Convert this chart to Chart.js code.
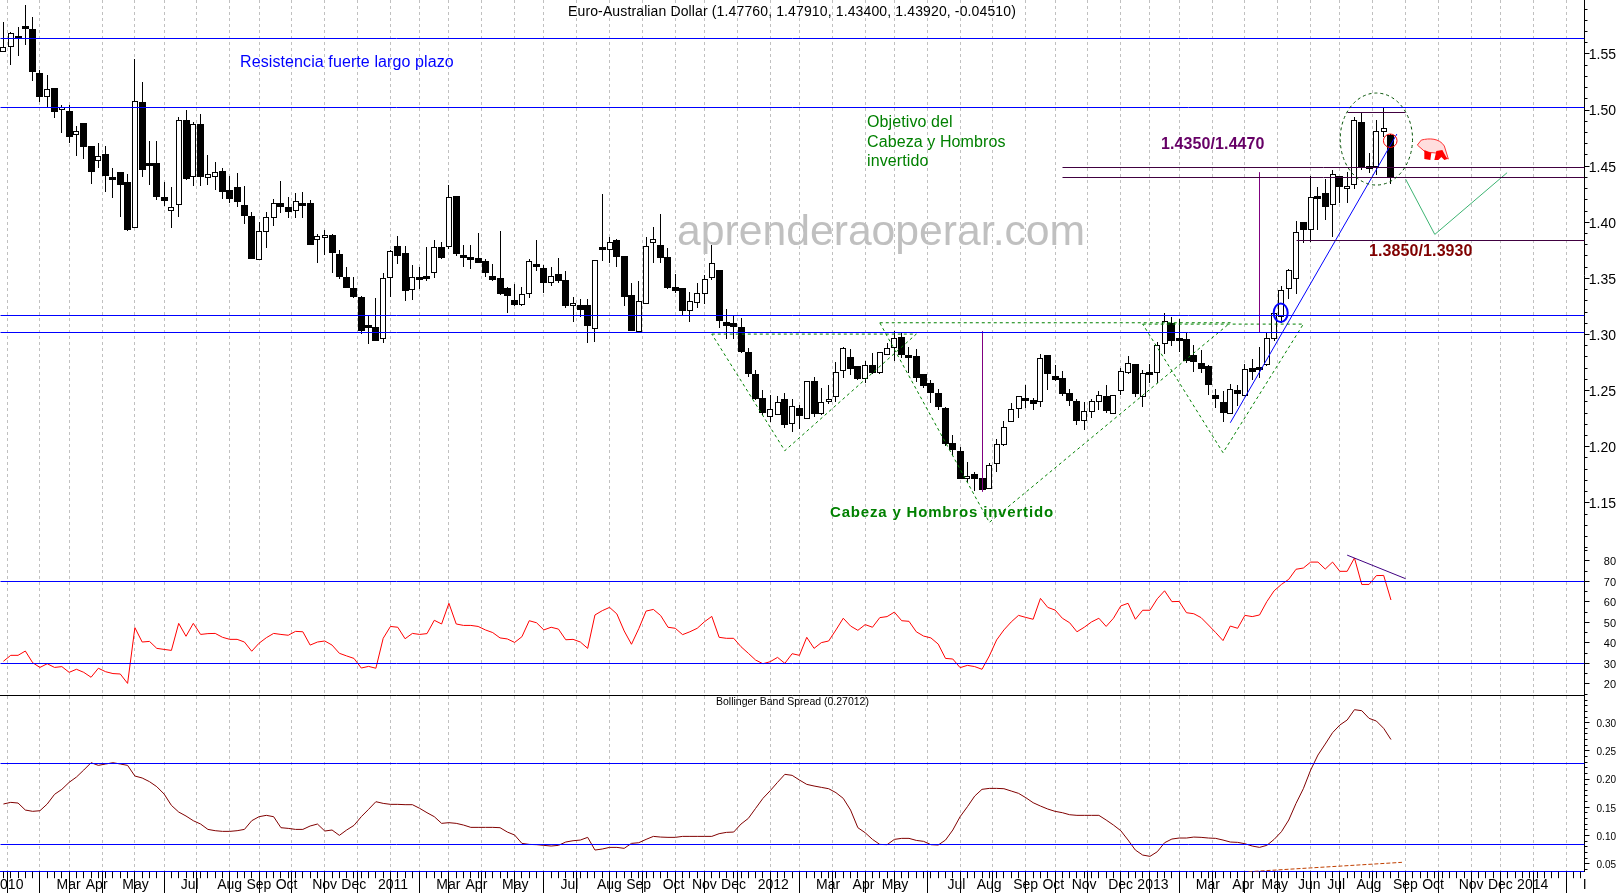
<!DOCTYPE html>
<html>
<head>
<meta charset="utf-8">
<title>Euro-Australian Dollar</title>
<style>
  html, body { margin: 0; padding: 0; background: #fff; }
  canvas { display: block; }
</style>
<script src="https://cdn.jsdelivr.net/npm/chart.js@4/dist/chart.umd.js"></script>
</head>
<body>
<canvas id="chart" width="1620" height="893"></canvas>
<script>
// weekly bars, bar number is the x value
const opens = [
  1.5514,1.5564,1.5659,1.5748,1.5719,1.5327,1.5113,1.5193,1.5003,1.4991,
  1.4774,1.4881,1.4679,1.4543,1.4608,1.4400,1.4445,1.4358,1.3952,1.5068,
  1.4525,1.4528,1.4225,1.4103,1.4150,1.4908,1.4400,1.4872,1.4391,1.4400,
  1.4456,1.4284,1.4311,1.4153,1.4055,1.3660,1.3910,1.4035,1.4171,1.4136,
  1.4097,1.4171,1.4171,1.3839,1.3856,1.3886,1.3717,1.3512,1.3414,1.3337,
  1.3084,1.3066,1.2957,1.3500,1.3788,1.3723,1.3393,1.3509,1.3518,1.3545,
  1.3779,1.3782,1.4234,1.3705,1.3687,1.3678,1.3652,1.3521,1.3500,1.3414,
  1.3304,1.3259,1.3357,1.3625,1.3589,1.3456,1.3536,1.3485,1.3257,1.3259,
  1.3262,1.3046,1.3776,1.3750,1.3842,1.3699,1.3352,1.3025,1.3268,1.3812,
  1.3794,1.3687,1.3423,1.3411,1.3206,1.3277,1.3357,1.3500,1.3574,1.3108,
  1.3102,1.3063,1.2841,1.2648,1.2434,1.2268,1.2279,1.2425,1.2199,1.2345,
  1.2247,1.2582,1.2288,1.2407,1.2440,1.2671,1.2796,1.2719,1.2600,1.2725,
  1.2654,1.2814,1.2876,1.2974,1.2814,1.2808,1.2645,1.2565,1.2475,1.2345,
  1.2030,1.1959,1.1709,1.1754,1.1718,1.1620,1.1843,1.2018,1.2217,1.2333,
  1.2431,1.2416,1.2395,1.2817,1.2627,1.2609,1.2475,1.2404,1.2226,1.2312,
  1.2395,1.2449,1.2288,1.2493,1.2660,1.2737,1.2446,1.2668,1.2654,1.2912,
  1.3099,1.2965,1.2957,1.2814,1.2743,1.2719,1.2461,1.2398,1.2288,1.2505,
  1.2455,1.2704,1.2707,1.2725,1.2957,1.3159,1.3402,1.3491,1.4000,1.3934,
  1.4231,1.4260,1.4150,1.4409,1.4299,1.4329,1.4890,1.4501,1.4495,1.4801,
  1.4776
];
const closes = [
  1.5558,1.5683,1.5653,1.5733,1.5341,1.5119,1.5184,1.4985,1.5024,1.4762,
  1.4816,1.4673,1.4450,1.4587,1.4415,1.4373,1.4335,1.3931,1.5077,1.4468,
  1.4513,1.4228,1.4192,1.4139,1.4908,1.4385,1.4872,1.4406,1.4427,1.4445,
  1.4272,1.4204,1.4183,1.4058,1.3675,1.3925,1.4050,1.4168,1.4139,1.4094,
  1.4186,1.4159,1.3800,1.3874,1.3883,1.3729,1.3509,1.3417,1.3337,1.3034,
  1.3072,1.2945,1.3500,1.3747,1.3702,1.3390,1.3509,1.3491,1.3509,1.3782,
  1.3684,1.4222,1.3717,1.3696,1.3678,1.3640,1.3551,1.3488,1.3363,1.3346,
  1.3262,1.3363,1.3652,1.3613,1.3461,1.3518,1.3479,1.3257,1.3280,1.3221,
  1.3078,1.3660,1.3756,1.3827,1.3693,1.3337,1.3034,1.3301,1.3785,1.3848,
  1.3684,1.3414,1.3387,1.3212,1.3295,1.3366,1.3491,1.3634,1.3123,1.3078,
  1.3069,1.2847,1.2648,1.2425,1.2300,1.2333,1.2401,1.2196,1.2360,1.2276,
  1.2582,1.2294,1.2401,1.2428,1.2668,1.2876,1.2695,1.2606,1.2731,1.2654,
  1.2847,1.2882,1.2971,1.2820,1.2802,1.2615,1.2541,1.2481,1.2357,1.2027,
  1.1974,1.1715,1.1742,1.1715,1.1611,1.1834,1.2021,1.2178,1.2333,1.2449,
  1.2413,1.2383,1.2787,1.2651,1.2594,1.2469,1.2410,1.2232,1.2315,1.2404,
  1.2458,1.2321,1.2458,1.2671,1.2743,1.2472,1.2654,1.2660,1.2903,1.3123,
  1.2945,1.2954,1.2766,1.2758,1.2695,1.2553,1.2425,1.2297,1.2511,1.2469,
  1.2695,1.2668,1.2695,1.2965,1.3188,1.3396,1.3574,1.3910,1.3934,1.4222,
  1.4219,1.4139,1.4427,1.4317,1.4320,1.4908,1.4495,1.4489,1.4810,1.4837,
  1.4392
];
const highs = [
  1.5781,1.5692,1.5736,1.5935,1.5826,1.5356,1.5312,1.5193,1.5041,1.5041,
  1.4857,1.4881,1.4679,1.4703,1.4679,1.4480,1.4445,1.4430,1.5451,1.5246,
  1.4724,1.4724,1.4358,1.4311,1.4941,1.5000,1.4893,1.4961,1.4599,1.4534,
  1.4480,1.4412,1.4439,1.4323,1.4091,1.4002,1.4094,1.4207,1.4364,1.4228,
  1.4263,1.4266,1.4198,1.3892,1.3931,1.3895,1.3753,1.3604,1.3509,1.3343,
  1.3170,1.3328,1.3545,1.3753,1.3877,1.3788,1.3616,1.3604,1.3779,1.3842,
  1.3821,1.4332,1.4234,1.3797,1.3797,1.3901,1.3669,1.3625,1.3922,1.3426,
  1.3450,1.3426,1.3669,1.3842,1.3619,1.3604,1.3678,1.3568,1.3337,1.3319,
  1.3316,1.3660,1.4251,1.3865,1.3853,1.3699,1.3456,1.3476,1.3871,1.3954,
  1.4073,1.3770,1.3536,1.3411,1.3375,1.3456,1.3530,1.3797,1.3574,1.3227,
  1.3173,1.3144,1.2876,1.2683,1.2505,1.2461,1.2452,1.2475,1.2425,1.2369,
  1.2588,1.2618,1.2520,1.2550,1.2755,1.2891,1.2870,1.2719,1.2764,1.2832,
  1.2847,1.2921,1.3028,1.3010,1.2891,1.2867,1.2645,1.2594,1.2514,1.2351,
  1.2104,1.2000,1.1861,1.1772,1.1733,1.1852,1.2066,1.2229,1.2386,1.2452,
  1.2550,1.2431,1.2823,1.2817,1.2728,1.2674,1.2517,1.2422,1.2395,1.2422,
  1.2496,1.2550,1.2458,1.2698,1.2808,1.2737,1.2683,1.2734,1.2936,1.3188,
  1.3153,1.3135,1.3010,1.2906,1.2862,1.2725,1.2514,1.2499,1.2559,1.2550,
  1.2734,1.2781,1.2891,1.3016,1.3194,1.3432,1.3580,1.4011,1.4000,1.4412,
  1.4317,1.4382,1.4465,1.4409,1.4447,1.4935,1.4976,1.4620,1.4911,1.5021,
  1.4791
];
const lows = [
  1.5514,1.5401,1.5484,1.5579,1.5261,1.5074,1.5024,1.4932,1.4798,1.4709,
  1.4593,1.4563,1.4341,1.4486,1.4272,1.4219,1.4050,1.3925,1.3946,1.4406,
  1.4332,1.4198,1.4148,1.3952,1.4050,1.4376,1.4326,1.4326,1.4332,1.4287,
  1.4207,1.4174,1.4139,1.3984,1.3675,1.3660,1.3767,1.3969,1.4085,1.4035,
  1.4035,1.4041,1.3797,1.3640,1.3711,1.3551,1.3491,1.3411,1.3328,1.3004,
  1.2918,1.2945,1.2927,1.3337,1.3628,1.3298,1.3307,1.3402,1.3476,1.3506,
  1.3669,1.3764,1.3702,1.3604,1.3586,1.3634,1.3515,1.3479,1.3354,1.3194,
  1.3254,1.3257,1.3322,1.3568,1.3372,1.3432,1.3456,1.3233,1.3114,1.3159,
  1.2927,1.2936,1.3657,1.3634,1.3604,1.3254,1.3034,1.3025,1.3268,1.3634,
  1.3640,1.3402,1.3366,1.3173,1.3114,1.3239,1.3271,1.3485,1.3055,1.2960,
  1.2960,1.2832,1.2624,1.2416,1.2282,1.2223,1.2279,1.2167,1.2134,1.2155,
  1.2247,1.2262,1.2282,1.2380,1.2401,1.2615,1.2639,1.2594,1.2570,1.2648,
  1.2648,1.2814,1.2766,1.2787,1.2654,1.2579,1.2520,1.2392,1.2327,1.2009,
  1.1926,1.1709,1.1688,1.1605,1.1611,1.1620,1.1774,1.2009,1.2217,1.2259,
  1.2348,1.2327,1.2357,1.2505,1.2585,1.2452,1.2363,1.2193,1.2149,1.2259,
  1.2327,1.2303,1.2288,1.2461,1.2648,1.2446,1.2357,1.2565,1.2565,1.2826,
  1.2900,1.2847,1.2743,1.2668,1.2654,1.2464,1.2342,1.2223,1.2288,1.2366,
  1.2455,1.2594,1.2609,1.2719,1.2945,1.3099,1.3316,1.3360,1.3812,1.3827,
  1.3931,1.4020,1.3865,1.4168,1.4174,1.4299,1.4465,1.4442,1.4421,1.4762,
  1.4340
];
const rsiValues = [
  31.0,33.9,33.9,36.0,30.3,28.0,29.8,28.0,28.4,25.6,
  27.1,25.6,23.2,27.6,25.9,25.0,24.8,20.2,47.4,40.4,
  40.7,37.3,36.8,36.3,49.5,43.2,49.5,44.1,44.5,44.6,
  42.7,41.7,41.7,40.4,35.9,39.8,42.5,44.6,44.1,43.7,
  45.6,45.4,38.9,40.4,40.9,38.9,34.9,33.6,32.4,27.7,
  28.5,27.6,42.2,48.0,47.6,42.0,44.6,44.1,44.5,51.0,
  49.2,59.3,49.2,48.5,48.5,48.0,46.3,45.0,42.4,41.9,
  40.2,43.0,50.8,49.8,46.3,47.6,46.7,41.5,41.7,40.4,
  37.3,53.6,55.7,57.3,54.1,45.8,39.3,46.9,55.5,56.3,
  53.3,47.6,47.1,44.0,45.4,47.1,50.3,52.9,42.7,42.2,
  42.2,38.1,34.9,31.6,29.8,30.8,32.9,30.0,34.7,33.9,
  42.7,37.3,40.1,40.9,46.3,52.0,48.2,46.1,48.9,47.6,
  52.3,52.8,55.0,50.8,50.5,45.4,43.3,42.4,39.4,32.4,
  32.1,27.9,29.0,28.4,27.1,33.6,41.4,46.3,50.2,53.4,
  52.4,51.5,61.7,57.3,56.0,52.0,49.8,45.4,47.6,50.2,
  52.0,48.0,52.0,58.0,59.3,51.5,55.9,55.9,61.5,65.4,
  60.1,60.2,54.7,54.2,52.3,48.7,45.0,41.1,48.2,47.1,
  53.4,52.8,53.6,60.1,65.4,68.5,71.0,75.9,76.5,79.4,
  79.4,76.0,79.4,74.9,74.9,81.4,68.5,68.5,72.8,72.9,
  60.9
];
const bandSpread = [
  .1558,.1587,.1575,.1451,.1428,.1439,.1558,.1729,.1818,.1942,
  .2036,.2160,.2290,.2243,.2267,.2290,.2267,.2243,.2054,.2019,
  .1954,.1865,.1735,.1534,.1416,.1345,.1262,.1203,.1108,.1085,
  .1073,.1073,.1085,.1108,.1262,.1333,.1357,.1333,.1138,.1126,
  .1108,.1108,.1168,.1203,.1079,.1097,.1002,.1097,.1179,.1333,
  .1463,.1599,.1569,.1552,.1552,.1546,.1546,.1481,.1404,.1333,
  .1215,.1227,.1215,.1185,.1144,.1144,.1144,.1144,.1138,.1061,
  .1008,.0860,.0842,.0837,.0825,.0813,.0825,.0884,.0907,.0919,
  .0967,.0742,.0760,.0789,.0789,.0772,.0860,.0872,.0931,.0984,
  .0972,.0967,.0967,.0984,.0984,.0984,.0984,.0984,.1032,.1055,
  .1061,.1203,.1303,.1481,.1658,.1794,.1942,.2084,.2066,.1983,
  .1906,.1877,.1853,.1829,.1759,.1658,.1451,.1138,.1049,.0931,
  .0842,.0837,.0931,.0949,.0949,.0913,.0896,.0837,.0831,.0919,
  .1097,.1333,.1510,.1699,.1818,.1835,.1835,.1829,.1788,.1747,
  .1670,.1581,.1522,.1469,.1428,.1404,.1368,.1357,.1357,.1357,
  .1357,.1274,.1185,.1085,.0919,.0742,.0653,.0630,.0712,.0872,
  .0937,.0955,.0955,.0972,.0967,.0955,.0949,.0919,.0884,.0878,
  .0854,.0813,.0789,.0825,.0931,.1067,.1274,.1569,.1829,.2160,
  .2426,.2621,.2822,.2958,.3047,.3230,.3212,.3076,.3029,.2899,
  .27012
];

// month ticks on the time axis, bar number and text
const monthTicks = [-1.8,3,7,11,16,20,24,29,33,37,42,46,51,55,59,63,68,72,76,81,85,90,94,98,103,107,111,116,120,124,129,133,138,142,146,151,155,159,163,168,172,177,181,185,190,194,199,203,207,212,216];
const monthLabels = ['2010','','Mar','Apr','May','','Jul','Aug','Sep','Oct','Nov','Dec','2011','','Mar','Apr','May','','Jul','Aug','Sep','Oct','Nov','Dec','2012','','Mar','Apr','May','','Jul','Aug','Sep','Oct','Nov','Dec','2013','','Mar','Apr','May','Jun','Jul','Aug','Sep','Oct','Nov','Dec','2014','','I'];
const priceTicks = [1.15,1.20,1.25,1.30,1.35,1.40,1.45,1.50,1.55];
const rsiTicks = [20,30,40,50,60,70,80];
const spreadTicks = [.05,.10,.15,.20,.25,.30];

// levels and drawn lines: [ [x, y], [x, y], ... ]
const priceLevels = [1.5638, 1.5024, 1.3174, 1.3019];
const rsiLevels = [70, 30];
const spreadLevels = [.2279, .0843];
const XMIN = -0.47, XMAX = 216.5;

const purpleLevels = [
  [[145, 1.4489], [XMAX, 1.4489]],
  [[145, 1.4400], [XMAX, 1.4400]],
  [[184, 1.4979], [192, 1.4979]],
  [[177, 1.3839], [XMAX, 1.3839]]
];
const targetLines = [
  [[172, 1.4445], [172, 1.3019]],
  [[134, 1.3025], [134, 1.1599]]
];
const shoulderLeft = [[97, 1.3004], [125, 1.3004], [107, 1.1965], [97, 1.3004]];
const headShape = [[120, 1.3105], [168, 1.3105], [135, 1.1326], [120, 1.3105]];
const shoulderRight = [[156, 1.3093], [178, 1.3093], [167, 1.1947], [156, 1.3093]];
const trendLine = [[168, 1.2214], [190.8, 1.4786]];
const forecastLine = [[192, 1.4385], [196, 1.3892], [205.9, 1.4442]];
const rsiDivergence = [[184, 82.8], [192, 71.3]];
const spreadRise = [[170.5, .0358], [191.5, .0524]];

// ellipses: centre bar, centre price, radius in bars, radius in price
const ellipses = [
  { c: [174.9, 1.3194], r: [0.96, 0.0082], color: '#0000ff', width: 2, dash: [] },
  { c: [188, 1.4742], r: [4.95, 0.041], color: '#005000', width: 1, dash: [3, 3] },
  { c: [189.9, 1.4727], r: [0.93, 0.006], color: '#ff0000', width: 1, dash: [] }
];

const FONT = '"Liberation Sans", Arial, sans-serif';
const texts = [
  { t: 'Euro-Australian Dollar (1.47760, 1.47910, 1.43400, 1.43920, -0.04510)', x: 568, y: 12, font: '14px ' + FONT, color: '#000', sp: '0.13px' },
  { t: 'Resistencia fuerte largo plazo', x: 240, y: 63, font: '16px ' + FONT, color: '#0000ff', sp: '0.1px' },
  { t: 'Objetivo del', x: 867, y: 123, font: '16px ' + FONT, color: '#008000', sp: '0.1px' },
  { t: 'Cabeza y Hombros', x: 867, y: 143, font: '16px ' + FONT, color: '#008000', sp: '0.1px' },
  { t: 'invertido', x: 867, y: 162, font: '16px ' + FONT, color: '#008000', sp: '0.1px' },
  { t: '1.4350/1.4470', x: 1161, y: 145, font: 'bold 16px ' + FONT, color: '#660066', sp: '0.1px' },
  { t: '1.3850/1.3930', x: 1369, y: 252, font: 'bold 16px ' + FONT, color: '#800000', sp: '0.1px' },
  { t: 'Cabeza y Hombros invertido', x: 830, y: 513, font: 'bold 15px ' + FONT, color: '#008000', sp: '0.82px' },
  { t: 'Bollinger Band Spread (0.27012)', x: 716, y: 702, font: '10.5px ' + FONT, color: '#000', sp: '0px' }
];

const points = (pairs) => pairs.map(([x, y]) => ({ x, y }));
const ohlcIndex = opens.map((_, i) => i);
const wickPoints = ohlcIndex.map((i) => ({ x: i, y: [lows[i], highs[i]] }));
const upBodies = ohlcIndex.filter((i) => closes[i] >= opens[i]).map((i) => ({ x: i, y: [opens[i], closes[i]] }));
const downBodies = ohlcIndex.filter((i) => closes[i] < opens[i]).map((i) => ({ x: i, y: [opens[i], closes[i]] }));

function lineSet(data, yAxisID, color, extra) {
  return Object.assign({
    type: 'line', data: points(data), yAxisID, borderColor: color, borderWidth: 1,
    pointRadius: 0, tension: 0, fill: false, order: 5, snap: false, borderCapStyle: 'butt'
  }, extra || {});
}
function barSet(data, thickness, fill, order, border) {
  return {
    type: 'bar', data, yAxisID: 'price', grouped: false, barThickness: thickness,
    backgroundColor: fill, borderColor: '#000', borderWidth: border, borderSkipped: false,
    inflateAmount: 0, order
  };
}

const datasets = [
  barSet(wickPoints, 1, '#000', 20, 0),
  barSet(downBodies, 7, '#000', 19, 0),
  barSet(upBodies, 6, '#fff', 19, 1)
];
priceLevels.forEach((v) => datasets.push(lineSet([[XMIN, v], [XMAX, v]], 'price', '#0000ff', { snap: true })));
rsiLevels.forEach((v) => datasets.push(lineSet([[XMIN, v], [XMAX, v]], 'rsi', '#0000ff', { snap: true })));
spreadLevels.forEach((v) => datasets.push(lineSet([[XMIN, v], [XMAX, v]], 'spread', '#0000ff', { snap: true })));
purpleLevels.forEach((l) => datasets.push(lineSet(l, 'price', '#400040', { snap: true })));
targetLines.forEach((l) => datasets.push(lineSet(l, 'price', '#800080', { snap: true })));
[shoulderLeft, headShape, shoulderRight].forEach((l) => datasets.push(lineSet(l, 'price', '#008000', { borderDash: [3, 3] })));
datasets.push(lineSet(trendLine, 'price', '#0000ff'));
datasets.push(lineSet(forecastLine, 'price', '#3cb371'));
datasets.push(lineSet(rsiValues.map((v, i) => [i, v]), 'rsi', '#ff0000', { order: 6 }));
datasets.push(lineSet(rsiDivergence, 'rsi', '#400080'));
datasets.push(lineSet(bandSpread.map((v, i) => [i, v]), 'spread', '#800000', { order: 6 }));
datasets.push(lineSet(spreadRise, 'spread', '#c04000', { borderDash: [4, 2] }));

// 1px marks stay crisp like the original bitmap
const snapPlugin = {
  id: 'snap',
  afterDatasetsUpdate(chart) {
    chart.data.datasets.forEach((ds, n) => {
      const meta = chart.getDatasetMeta(n);
      if (ds.type === 'bar') {
        meta.data.forEach((el) => {
          el.x = ds.barThickness % 2 ? Math.floor(el.x) + 0.5 : Math.round(el.x);
          el.y = Math.round(el.y);
          el.base = Math.round(el.base);
          if (ds.barThickness > 1 && Math.abs(el.base - el.y) < 3) el.base = el.y + 3;
          el.height = el.base - el.y;
        });
      } else if (ds.snap) {
        meta.data.forEach((el) => {
          el.x = Math.floor(el.x) + 0.5;
          el.y = Math.floor(el.y) + 0.5;
        });
      }
    });
  }
};

function drawBear(ctx, cx, cy) {
  ctx.save();
  ctx.translate(cx, cy);
  ctx.fillStyle = '#ffdede';
  ctx.beginPath();
  ctx.moveTo(-16, -5);
  ctx.lineTo(-12, -10);
  ctx.bezierCurveTo(-4, -12, 6, -12, 11, -4);
  ctx.lineTo(15, 9);
  ctx.lineTo(3, 3);
  ctx.lineTo(-8, 2);
  ctx.closePath();
  ctx.fill();
  ctx.strokeStyle = '#ff3030';
  ctx.lineWidth = 1;
  ctx.stroke();
  ctx.fillStyle = '#ff0000';
  ctx.beginPath();
  ctx.moveTo(-9, 0); ctx.lineTo(-2, 3); ctx.lineTo(-3, 10); ctx.lineTo(-9, 9); ctx.closePath();
  ctx.moveTo(1, 10); ctx.lineTo(3, 1); ctx.lineTo(9, 0); ctx.lineTo(14, 9); ctx.lineTo(11, 10); ctx.lineTo(8, 7); ctx.lineTo(5, 10); ctx.closePath();
  ctx.fill();
  ctx.restore();
}

const decorPlugin = {
  id: 'decor',
  beforeDatasetsDraw(chart) {
    const ctx = chart.ctx;
    ctx.save();
    ctx.font = '42.7px ' + FONT;
    ctx.fillStyle = '#c0c0c0';
    ctx.textBaseline = 'alphabetic';
    ctx.fillText('aprenderaoperar.com', 677, 245);
    ctx.restore();
  },
  afterDatasetsDraw(chart) {
    const ctx = chart.ctx;
    const { x, price, rsi, spread } = chart.scales;
    ctx.save();
    ellipses.forEach((e) => {
      ctx.beginPath();
      ctx.setLineDash(e.dash);
      ctx.lineWidth = e.width;
      ctx.strokeStyle = e.color;
      const px = x.getPixelForValue(e.c[0]);
      const py = price.getPixelForValue(e.c[1]);
      const rx = x.getPixelForValue(e.c[0] + e.r[0]) - px;
      const ry = py - price.getPixelForValue(e.c[1] + e.r[1]);
      ctx.ellipse(px, py, rx, ry, 0, 0, Math.PI * 2);
      ctx.stroke();
    });
    ctx.setLineDash([]);
    drawBear(ctx, x.getPixelForValue(195.8), price.getPixelForValue(1.4644));

    // line between the price/RSI pane and the spread pane
    const sep = Math.floor(spread.top) + 0.5;
    ctx.strokeStyle = '#000';
    ctx.lineWidth = 1;
    ctx.beginPath();
    ctx.moveTo(0, sep);
    ctx.lineTo(chart.chartArea.right, sep);
    ctx.stroke();

    // minor ticks
    const minor = (scale, from, to, step) => {
      ctx.beginPath();
      for (let v = from; v <= to + 1e-9; v += step) {
        const y = Math.floor(scale.getPixelForValue(v)) + 0.5;
        ctx.moveTo(scale.left, y);
        ctx.lineTo(scale.left + 3, y);
      }
      ctx.stroke();
    };
    minor(price, 1.11, 1.59, 0.01);
    minor(rsi, 15, 85, 5);
    minor(spread, 0.04, 0.34, 0.01);
    ctx.beginPath();
    for (let i = 0; i <= 216; i++) {
      const px = Math.floor(x.getPixelForValue(i)) + 0.5;
      ctx.moveTo(px, x.top);
      ctx.lineTo(px, x.top + 6.5);
    }
    ctx.stroke();

    ctx.textBaseline = 'middle';
    texts.forEach((s) => {
      ctx.font = s.font;
      ctx.fillStyle = s.color;
      ctx.letterSpacing = s.sp;
      ctx.fillText(s.t, s.x, s.y);
    });
    ctx.restore();
  }
};

function yAxis(weight, min, max, tickValues, digits, size) {
  return {
    type: 'linear', position: 'right', stack: 'panes', stackWeight: weight, min, max,
    afterBuildTicks(scale) { scale.ticks = tickValues.map((value) => ({ value })); },
    afterFit(scale) { scale.width = 31.5; scale.paddingTop = 0; scale.paddingBottom = 0; },
    grid: { drawOnChartArea: false, drawTicks: true, tickLength: 5, tickColor: '#000' },
    border: { color: '#000', width: 1 },
    ticks: {
      crossAlign: 'far', padding: 0, labelOffset: 1.5, color: '#000', autoSkip: false, font: { family: FONT, size },
      callback: (v) => v.toFixed(digits)
    }
  };
}

new Chart(document.getElementById('chart'), {
  type: 'bar',
  data: { datasets },
  options: {
    responsive: false,
    animation: false,
    devicePixelRatio: 1,
    layout: { padding: { left: 0, top: 0, bottom: 0, right: 4 } },
    parsing: { xAxisKey: 'x', yAxisKey: 'y' },
    plugins: { legend: { display: false }, tooltip: { enabled: false }, title: { display: false } },
    scales: {
      x: {
        type: 'linear', min: XMIN, max: XMAX, offset: false, position: 'bottom',
        afterBuildTicks(scale) { scale.ticks = monthTicks.map((value) => ({ value })); },
        afterFit(scale) { scale.height = 21.3; scale.paddingLeft = 0; scale.paddingRight = 0; },
        grid: { color: '#c0c0c0', tickColor: '#000', tickLength: 21.3, tickBorderDash: [] },
        border: { color: '#0000ff', dash: [3, 3], width: 1 },
        ticks: {
          align: 'start', padding: -16, labelOffset: 2, color: '#000', autoSkip: false, maxRotation: 0,
          font: { family: FONT, size: 14 },
          callback: (v) => monthLabels[monthTicks.indexOf(v)]
        }
      },
      price: yAxis(550, 1.108, 1.5981, priceTicks, 2, 14),
      rsi: yAxis(145.3, 14.4, 85.3, rsiTicks, 0, 11),
      spread: yAxis(176.4, 0.0358, 0.3485, spreadTicks, 2, 10)
    }
  },
  plugins: [snapPlugin, decorPlugin]
});
</script>
</body>
</html>
